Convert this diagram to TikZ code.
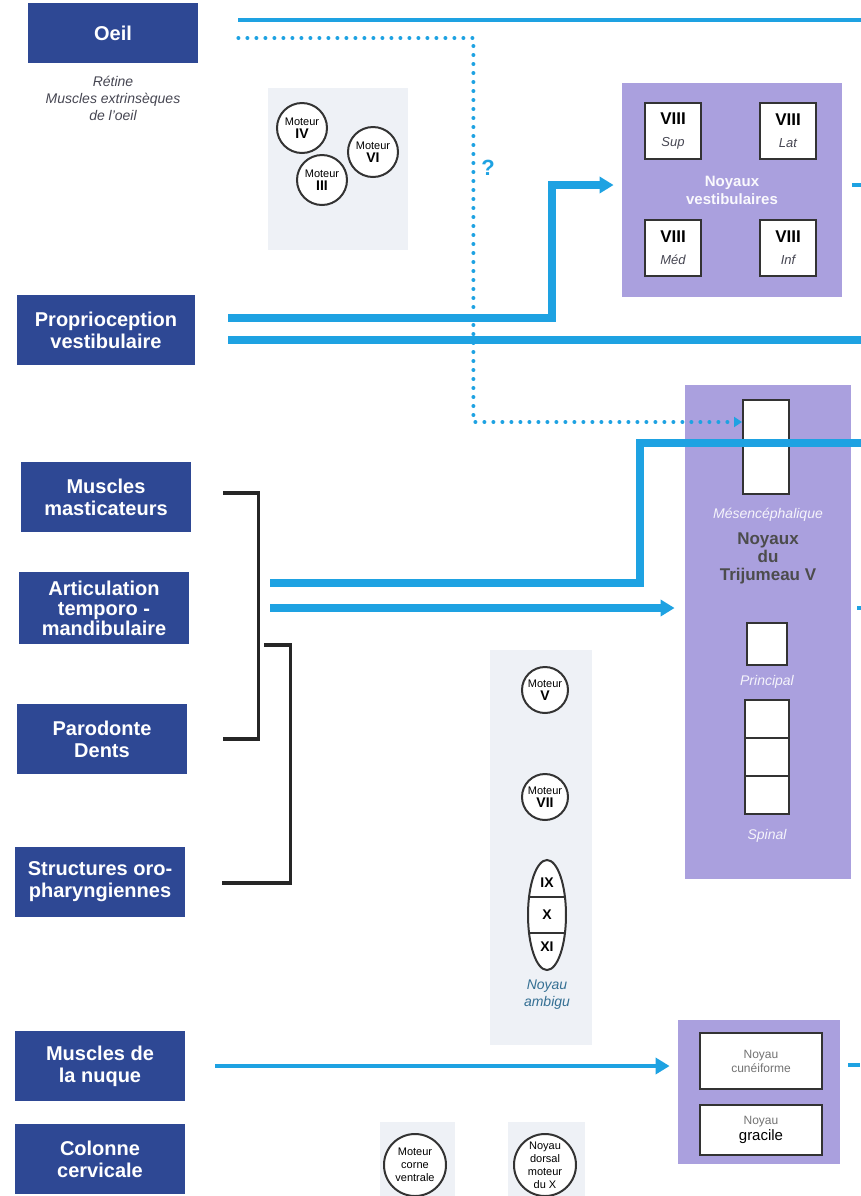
\documentclass[tikz,border=0pt]{standalone}
\usepackage{fontspec}
\setmainfont{Liberation Sans}
\usetikzlibrary{arrows.meta,positioning,calc,shapes.geometric}
\definecolor{senseblue}{RGB}{46,72,148}
\definecolor{nucleus}{RGB}{170,160,222}
\definecolor{fibre}{RGB}{30,162,226}
\definecolor{panel}{RGB}{238,241,246}
\definecolor{caption}{RGB}{70,70,82}

\tikzset{
  sense/.style={rectangle, fill=senseblue, text=white, align=center,
    font=\bfseries\fontsize{10}{11}\selectfont, minimum width=85pt,
    minimum height=35pt, inner sep=1pt},
  nucbox/.style={rectangle, fill=nucleus, inner sep=0pt},
  subnuc/.style={rectangle, draw=black!80, line width=1pt, fill=white,
    align=center, inner sep=0pt},
  motor/.style={circle, draw=black!80, line width=1pt, fill=white,
    align=center, inner sep=0pt, minimum size=25pt,
    font=\fontsize{5.5}{6.5}\selectfont},
  fibre/.style={draw=fibre, line width=4pt},
  thinfibre/.style={draw=fibre, line width=2pt},
  dotfibre/.style={draw=fibre, line width=2pt, line cap=round,
    dash pattern=on 0pt off 4.5pt},
  bracket/.style={draw=black!85, line width=1.6pt},
  capt/.style={font=\itshape\fontsize{7}{8.5}\selectfont, text=caption,
    align=center},
  head/.style={-{Triangle[length=7pt,width=8pt]}},
}
\newcommand{\nerve}[1]{{\bfseries\fontsize{7}{8}\selectfont #1}}

\begin{document}
\begin{tikzpicture}[x=0.5pt, y=-0.5pt]
  \useasboundingbox (0,0) rectangle (861,1196);
  % pale panels behind motor nuclei
  \fill[panel] (268,88) rectangle (408,250);
  \fill[panel] (490,650) rectangle (592,1045);
  \fill[panel] (380,1122) rectangle (455,1196);
  \fill[panel] (508,1122) rectangle (585,1196);

  % sources
  \node[sense, minimum height=30pt] (oeil) at (113,33) {Oeil};
  \node[capt, below=3pt of oeil] (oeilcap) {Rétine\\Muscles extrinsèques\\de l'oeil};
  \node[sense, minimum width=89pt] (proprio) at (106,330) {Proprioception\\vestibulaire};
  \node[sense] (mastic) at (106,497) {Muscles\\masticateurs};
  \node[sense, font=\bfseries\fontsize{10}{10}\selectfont, minimum height=36pt]
    (artic) at (104,608) {Articulation\\temporo -\\mandibulaire};
  \node[sense] (parod) at (102,739) {Parodonte\\Dents};
  \node[sense] (oroph) at (100,882) {Structures oro-\\pharyngiennes};
  \node[sense] (nuque) at (100,1066) {Muscles de\\la nuque};
  \node[sense] (colonne) at (100,1159) {Colonne\\cervicale};

  % vestibular nuclei
  \node[nucbox, minimum width=110pt, minimum height=107pt] (vestib) at (732,190) {};
  \foreach \nm/\sub/\px/\py in {sup/Sup/673/131, lat/Lat/788/131, med/Méd/673/248, inf/Inf/788/248}
    \node[subnuc, minimum size=28pt] (\nm) at (\px,\py)
      {{\bfseries\fontsize{8.5}{9}\selectfont VIII}\\[-1pt]
       {\itshape\fontsize{6.5}{7}\selectfont\color{caption}\sub}};
  \node[text=white!94!nucleus, font=\bfseries\fontsize{7.5}{9}\selectfont, align=center]
    (vestiblab) at (vestib) {Noyaux\\vestibulaires};

  % trigeminal nuclei
  \node[nucbox, minimum width=83pt, minimum height=247pt] (trij) at (768,632) {};
  \node[subnuc, minimum width=23pt, minimum height=47pt] (mes) at (766,447) {};
  \node[font=\itshape\fontsize{7}{8}\selectfont, text=white!88!nucleus]
    (meslab) at (768,515) {Mésencéphalique};
  \node[font=\bfseries\fontsize{8.5}{9}\selectfont, text=black!70, align=center]
    (trijlab) at (768,558) {Noyaux\\du\\Trijumeau V};
  \node[subnuc, minimum width=20pt, minimum height=21pt] (princ) at (767,644) {};
  \node[font=\itshape\fontsize{7}{8}\selectfont, text=white!88!nucleus]
    (princlab) at (767,682) {Principal};
  \node[subnuc, minimum width=22pt, minimum height=57pt] (spinal) at (767,757) {};
  \draw[black!80, line width=1pt] ($(spinal.north west)!0.333!(spinal.south west)$)
    -- ($(spinal.north east)!0.333!(spinal.south east)$);
  \draw[black!80, line width=1pt] ($(spinal.north west)!0.667!(spinal.south west)$)
    -- ($(spinal.north east)!0.667!(spinal.south east)$);
  \node[font=\itshape\fontsize{7}{8}\selectfont, text=white!88!nucleus]
    (spinlab) at (767,836) {Spinal};

  % dorsal column nuclei
  \node[nucbox, minimum width=81pt, minimum height=72pt] (dorsal) at (759,1092) {};
  \node[subnuc, minimum width=61pt, minimum height=28pt, text=black!55,
    font=\fontsize{6}{7}\selectfont] (cunei) at (761,1061) {Noyau\\cunéiforme};
  \node[subnuc, minimum width=61pt, minimum height=25pt,
    font=\fontsize{6}{8}\selectfont] (gracile) at (761,1130)
    {{\color{black!55}Noyau}\\{\fontsize{7.5}{8}\selectfont gracile}};

  % motor nuclei
  \node[motor] (m4) at (302,128) {Moteur\\\nerve{IV}};
  \node[motor] (m6) at (373,152) {Moteur\\\nerve{VI}};
  \node[motor] (m3) at (322,180) {Moteur\\\nerve{III}};
  \node[motor, minimum size=23pt] (m5) at (545,690) {Moteur\\\nerve{V}};
  \node[motor, minimum size=23pt] (m7) at (545,797) {Moteur\\\nerve{VII}};
  \node[ellipse, draw=black!80, line width=1pt, fill=white, minimum width=19pt,
    minimum height=55pt, inner sep=0pt] (ambig) at (547,915) {};
  \draw[black!80, line width=1pt] ($(ambig.center)+(-18,-18)$) -- ($(ambig.center)+(18,-18)$);
  \draw[black!80, line width=1pt] ($(ambig.center)+(-18,18)$) -- ($(ambig.center)+(18,18)$);
  \node at ($(ambig.center)+(0,-32)$) {\nerve{IX}};
  \node at (ambig.center) {\nerve{X}};
  \node at ($(ambig.center)+(0,32)$) {\nerve{XI}};
  \node[capt, text=fibre!45!caption, below=1pt of ambig] (ambiglab) {Noyau\\ambigu};
  \node[motor, minimum size=31pt] (corne) at (415,1165) {Moteur\\corne\\ventrale};
  \node[motor, minimum size=31pt] (dorsx) at (545,1165) {Noyau\\dorsal\\moteur\\du X};

  % brackets
  \draw[bracket] ($(mastic.east)+(32,-4)$) -- ++(35,0) |- ($(parod.east)+(36,0)$);
  \draw[bracket] ($(artic.east)+(75,37)$) -- ++(26,0) |- ($(oroph.east)+(37,1)$);

  % fibres
  \coordinate (exitoeil) at (861,20);
  \coordinate (exitprop) at (861,340);
  \coordinate (exitmes) at (861,443);
  \draw[thinfibre] ($(oeil.east)+(40,-13)$) -- (exitoeil);
  \draw[dotfibre, -{Triangle[length=4pt,width=5pt]}] ($(oeil.east)+(40,5)$)
    -- ++(235,0) |- ($(mes.west)+(0,-25)$);
  \node[text=fibre, font=\bfseries\fontsize{11}{12}\selectfont] (quest) at (488,168) {?};
  \draw[fibre, head, shorten >=4pt] ($(proprio.east)+(33,-12)$)
    -| ($(vestib.west)+(-70,-5)$) -- ($(vestib.west)+(0,-5)$);
  \draw[fibre] ($(proprio.east)+(33,10)$) -- (exitprop);
  \draw[fibre] ($(artic.east)+(81,-25)$) -- ++(370,0) |- (exitmes);
  \coordinate (artictwo) at ($(artic.east)+(81,0)$);
  \draw[fibre, head, shorten >=5pt] (artictwo) -- (artictwo -| trij.west);
  \draw[thinfibre, head, shorten >=4pt] ($(nuque.east)+(30,0)$) -- (nuque.east -| dorsal.west);
  % outgoing stubs
  \draw[thinfibre] ($(vestib.east)+(10,-5)$) -- ++(15,0);
  \draw[thinfibre] (artictwo -| trij.east) ++(6,0) -- ++(12,0);
  \draw[thinfibre] ($(dorsal.east)+(8,-27)$) -- ++(12,0);
\end{tikzpicture}
\end{document}
